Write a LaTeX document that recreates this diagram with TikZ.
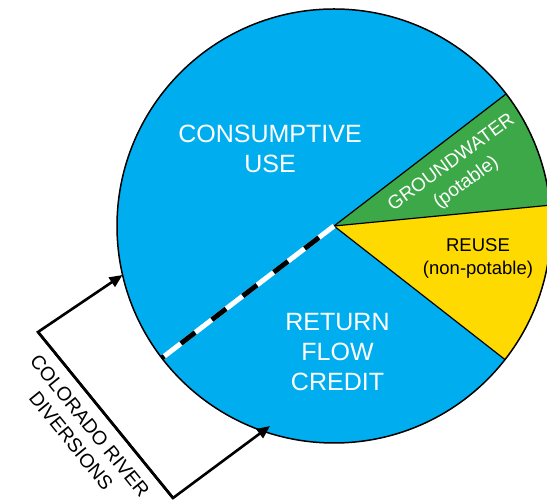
\documentclass[tikz,border=0pt]{standalone}
\usepackage{fontspec}
\setmainfont{Liberation Sans}
\usetikzlibrary{arrows.meta,calc}
\definecolor{pieblue}{RGB}{0,174,239}
\definecolor{piegreen}{RGB}{60,168,72}
\definecolor{pieyellow}{RGB}{255,218,0}
\tikzset{
  sectorline/.style={draw=black, line width=1.2bp},
  bracketline/.style={draw=black, line width=2.6bp, line join=miter},
  bracketarrow/.style={bracketline, -{Triangle[length=13bp,width=11bp]}},
  bigtext/.style={text=white, font=\fontsize{25bp}{30bp}\selectfont, align=center, inner sep=0pt},
  smalltext/.style={font=\fontsize{18.5bp}{23bp}\selectfont, align=center, inner sep=0pt},
}
\begin{document}
\begin{tikzpicture}[x=1bp,y=1bp]
\useasboundingbox (0,0) rectangle (547,500);
\def\R{217}
\coordinate (c) at (334,274);
% pie
\fill[pieblue] (c) circle[radius=\R];
\fill[piegreen] (c) -- ++(5.5:\R) arc[start angle=5.5, end angle=37.5, radius=\R] -- cycle;
\fill[pieyellow] (c) -- ++(-38:\R) arc[start angle=-38, end angle=5.5, radius=\R] -- cycle;
\coordinate (g1) at ($(c)+(37.5:\R)$);
\coordinate (g2) at ($(c)+(5.5:\R)$);
\coordinate (y1) at ($(c)+(-38:\R)$);
\coordinate (d) at ($(c)+(217.5:\R)$);
\draw[sectorline] (c) -- (g1);
\draw[sectorline] (c) -- (g2);
\draw[sectorline] (c) -- (y1);
% dashed divider
\draw[white, line width=5bp] (c) -- (d);
\draw[black, line width=5bp, dash pattern=on 18bp off 21bp, dash phase=20bp] (c) -- (d);
\draw[black, line width=1.5bp] (c) circle[radius=\R];
% bracket arrows
\coordinate (ca) at (38,168);
\coordinate (cb) at (173,2);
\coordinate (t1) at (122.5,225);
\coordinate (t2) at (270,74);
\draw[bracketarrow] (cb) -- (ca) -- (t1);
\draw[bracketarrow] (ca) -- (cb) -- (t2);
% texts
\node[bigtext] (cu) at (270,351) {CONSUMPTIVE\\USE};
\node[bigtext] (rf) at (337.5,148) {RETURN\\FLOW\\CREDIT};
\node[smalltext, text=white, rotate=36, font=\fontsize{19bp}{25bp}\selectfont] (gw) at (459,327) {GROUNDWATER\\(potable)};
\node[smalltext, text=black] (ru) at (478,241.5) {REUSE\\(non-potable)};
\node[smalltext, text=black, rotate=-51, font=\fontsize{19.5bp}{24bp}\selectfont] (cr) at (80.5,66.5) {COLORADO RIVER\\DIVERSIONS};
\end{tikzpicture}
\end{document}
